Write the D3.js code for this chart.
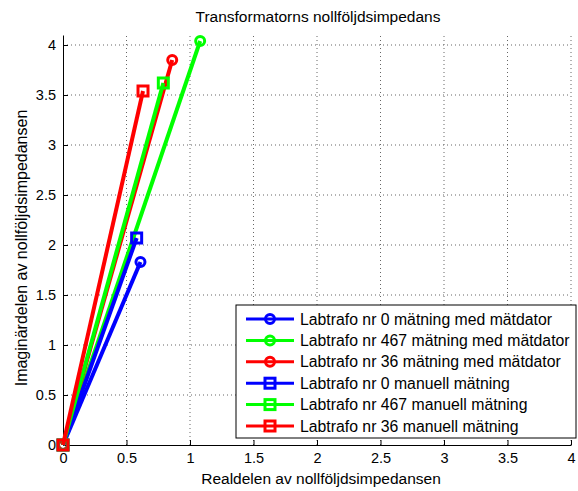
<!DOCTYPE html>
<html>
<head>
<meta charset="utf-8">
<script src="https://cdn.jsdelivr.net/npm/d3@7"></script>
<style>
  body { margin: 0; background: #fff; }
  svg { font-family: "Liberation Sans", Arial, sans-serif; }
  .grid line { stroke: #666; stroke-dasharray: 1,3; }
  .axis path, .axis line { stroke: #000; }
  .axis text { font-size: 14.5px; fill: #000; }
</style>
</head>
<body>
<svg width="578" height="491"></svg>
<script>
// series, in the order they were plotted
var seriesNames = [
  "Labtrafo nr 0 mätning med mätdator",
  "Labtrafo nr 467 mätning med mätdator",
  "Labtrafo nr 36 mätning med mätdator",
  "Labtrafo nr 0 manuell mätning",
  "Labtrafo nr 467 manuell mätning",
  "Labtrafo nr 36 manuell mätning"
];
var realParts = [0.61, 1.08, 0.86, 0.58, 0.79, 0.63];
var imagParts = [1.83, 4.04, 3.85, 2.07, 3.62, 3.54];
var seriesColors = ["#0000ff", "#00ff00", "#ff0000", "#0000ff", "#00ff00", "#ff0000"];
var seriesMarkers = ["circle", "circle", "circle", "square", "square", "square"];
var tickValues = [0, 0.5, 1, 1.5, 2, 2.5, 3, 3.5, 4];

var svg = d3.select("svg");
var xScale = d3.scaleLinear().domain([0, 4]).range([63, 571]);
var yScale = d3.scaleLinear().domain([0, 4.1]).range([445, 35]);

// grid
var grid = svg.append("g").attr("class", "grid");
grid.selectAll("line.v")
  .data(tickValues.slice(1))
  .enter()
  .append("line")
  .attr("x1", function(d) { return xScale(d); })
  .attr("x2", function(d) { return xScale(d); })
  .attr("y1", yScale(0))
  .attr("y2", yScale(4.1));
grid.selectAll("line.h")
  .data(tickValues.slice(1))
  .enter()
  .append("line")
  .attr("x1", xScale(0))
  .attr("x2", xScale(4))
  .attr("y1", function(d) { return yScale(d); })
  .attr("y2", function(d) { return yScale(d); });

// axes (ticks pointing inwards, matlab style)
svg.append("g")
  .attr("class", "axis")
  .attr("transform", "translate(0," + yScale(0) + ")")
  .call(d3.axisBottom(xScale).tickValues(tickValues).tickSizeInner(-5).tickSizeOuter(0).tickPadding(8).tickFormat(d3.format("")));

svg.append("g")
  .attr("class", "axis")
  .attr("transform", "translate(" + xScale(0) + ",0)")
  .call(d3.axisLeft(yScale).tickValues(tickValues).tickSizeInner(-5).tickSizeOuter(0).tickPadding(7).tickFormat(d3.format("")));

// lines from origin
var lines = svg.append("g");
seriesNames.forEach(function(name, i) {
  var pts = [[0, 0], [realParts[i], imagParts[i]]];
  var g = lines.append("g");
  g.append("line")
    .attr("x1", xScale(0)).attr("y1", yScale(0))
    .attr("x2", xScale(realParts[i])).attr("y2", yScale(imagParts[i]))
    .attr("stroke", seriesColors[i])
    .attr("stroke-width", 4);
  pts.forEach(function(p) {
    drawMarker(g, seriesMarkers[i], xScale(p[0]), yScale(p[1]), seriesColors[i]);
  });
});

function drawMarker(g, type, cx, cy, color) {
  if (type == "circle") {
    g.append("circle")
      .attr("cx", cx).attr("cy", cy).attr("r", 4.5)
      .attr("fill", "none").attr("stroke", color).attr("stroke-width", 3);
  } else {
    g.append("rect")
      .attr("x", cx - 5).attr("y", cy - 5)
      .attr("width", 10).attr("height", 10)
      .attr("fill", "none").attr("stroke", color).attr("stroke-width", 3);
  }
}

// title and axis labels
svg.append("text")
  .attr("x", 318).attr("y", 22)
  .attr("text-anchor", "middle")
  .attr("font-size", "15.5px")
  .text("Transformatorns nollföljdsimpedans");

svg.append("text")
  .attr("x", 321).attr("y", 484)
  .attr("text-anchor", "middle")
  .attr("font-size", "15.5px")
  .text("Realdelen av nollföljdsimpedansen");

svg.append("text")
  .attr("transform", "translate(27," + yScale(1.97) + ") rotate(-90)")
  .attr("text-anchor", "middle")
  .attr("font-size", "16px")
  .text("Imaginärdelen av nollföljdsimpedansen");

// legend
var legend = svg.append("g").attr("transform", "translate(236,305)");
legend.append("rect")
  .attr("width", 340).attr("height", 133)
  .attr("fill", "#fff").attr("stroke", "#000").attr("stroke-width", 1);
seriesNames.forEach(function(name, i) {
  var y = 14 + i * 21.4;
  legend.append("line")
    .attr("x1", 10).attr("x2", 58)
    .attr("y1", y).attr("y2", y)
    .attr("stroke", seriesColors[i]).attr("stroke-width", 3);
  drawMarker(legend, seriesMarkers[i], 34, y, seriesColors[i]);
  legend.append("text")
    .attr("x", 64).attr("y", y + 5.5)
    .attr("font-size", "15.8px")
    .text(name);
});
</script>
</body>
</html>
